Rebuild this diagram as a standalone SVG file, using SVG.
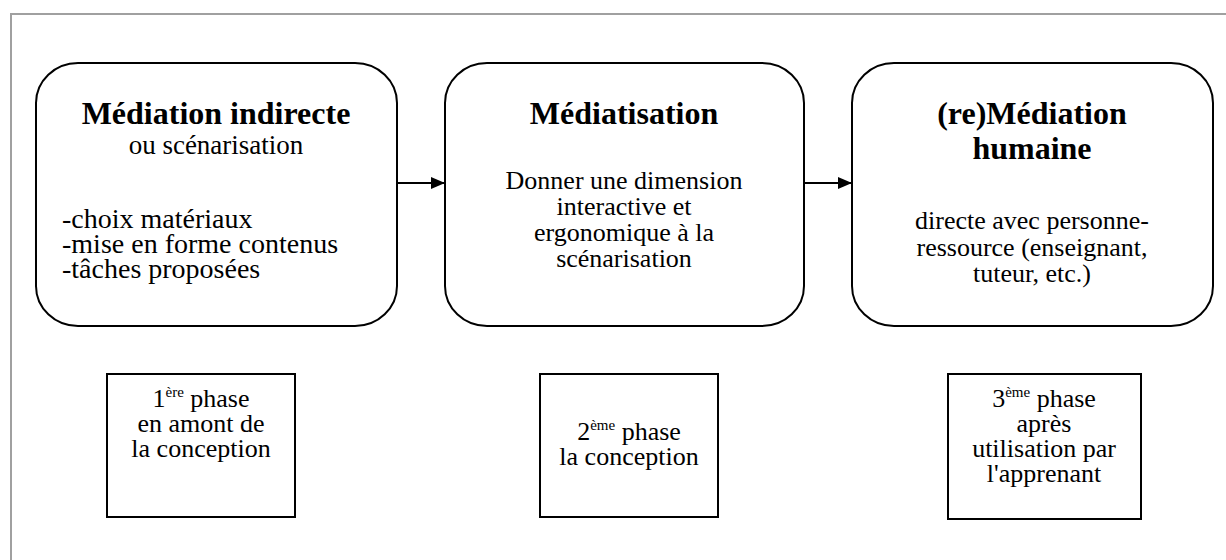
<svg xmlns="http://www.w3.org/2000/svg" width="1226" height="560" viewBox="0 0 1226 560">
<defs>
<marker id="arr" markerWidth="14" markerHeight="12" refX="14" refY="6" orient="auto" markerUnits="userSpaceOnUse">
<path d="M0,0 L14,6 L0,12 Z" fill="#000"/>
</marker>
<style>
.frame{fill:none;stroke:#a0a0a0;stroke-width:2}
.rbox{fill:#fff;stroke:#000;stroke-width:2}
.pbox{fill:#fff;stroke:#000;stroke-width:2}
.conn{stroke:#000;stroke-width:2;fill:none}
</style>
</defs>
<rect width="1226" height="560" fill="#fff"/>
<path class="frame" d="M11,560 V14 H1226"/>
<g id="connectors">
<line class="conn" x1="397" y1="183" x2="445" y2="183" marker-end="url(#arr)"/>
<line class="conn" x1="804" y1="183" x2="852" y2="183" marker-end="url(#arr)"/>
</g>
<g id="node-mediation-indirecte">
<rect class="rbox" x="36" y="63" width="361" height="263" rx="42" ry="40"/>
<text font-family="Liberation Serif" font-size="32" font-weight="bold" text-anchor="middle" x="216" y="124">Médiation indirecte</text>
<text font-family="Liberation Serif" font-size="27" text-anchor="middle" x="216" y="154">ou scénarisation</text>
<text font-family="Liberation Serif" font-size="28" x="62" y="228">-choix matériaux</text>
<text font-family="Liberation Serif" font-size="28" x="62" y="253">-mise en forme contenus</text>
<text font-family="Liberation Serif" font-size="28" x="62" y="278">-tâches proposées</text>
</g>
<g id="node-mediatisation">
<rect class="rbox" x="445" y="63" width="359" height="263" rx="42" ry="40"/>
<text font-family="Liberation Serif" font-size="32" font-weight="bold" text-anchor="middle" x="624" y="124">Médiatisation</text>
<text font-family="Liberation Serif" font-size="26" text-anchor="middle" x="624" y="189">Donner une dimension</text>
<text font-family="Liberation Serif" font-size="26" text-anchor="middle" x="624" y="215">interactive et</text>
<text font-family="Liberation Serif" font-size="26" text-anchor="middle" x="624" y="241">ergonomique à la</text>
<text font-family="Liberation Serif" font-size="26" text-anchor="middle" x="624" y="267">scénarisation</text>
</g>
<g id="node-remediation-humaine">
<rect class="rbox" x="852" y="63" width="361" height="263" rx="42" ry="40"/>
<text font-family="Liberation Serif" font-size="32" font-weight="bold" text-anchor="middle" x="1032" y="124">(re)Médiation</text>
<text font-family="Liberation Serif" font-size="32" font-weight="bold" text-anchor="middle" x="1032" y="159">humaine</text>
<text font-family="Liberation Serif" font-size="26" text-anchor="middle" x="1032" y="229">directe avec personne-</text>
<text font-family="Liberation Serif" font-size="26" text-anchor="middle" x="1032" y="256">ressource (enseignant,</text>
<text font-family="Liberation Serif" font-size="26" text-anchor="middle" x="1032" y="282">tuteur, etc.)</text>
</g>
<g id="node-phase-1">
<rect class="pbox" x="107" y="374" width="188" height="143"/>
<text font-family="Liberation Serif" font-size="26" text-anchor="middle" x="201" y="407">1<tspan font-size="15" dy="-10">ère</tspan><tspan dy="10"> phase</tspan></text>
<text font-family="Liberation Serif" font-size="26" text-anchor="middle" x="201" y="432">en amont de</text>
<text font-family="Liberation Serif" font-size="26" text-anchor="middle" x="201" y="457">la conception</text>
</g>
<g id="node-phase-2">
<rect class="pbox" x="540" y="374" width="178" height="143"/>
<text font-family="Liberation Serif" font-size="26" text-anchor="middle" x="629" y="440">2<tspan font-size="15" dy="-10">ème</tspan><tspan dy="10"> phase</tspan></text>
<text font-family="Liberation Serif" font-size="26" text-anchor="middle" x="629" y="465">la conception</text>
</g>
<g id="node-phase-3">
<rect class="pbox" x="948" y="374" width="193" height="145"/>
<text font-family="Liberation Serif" font-size="26" text-anchor="middle" x="1044" y="407">3<tspan font-size="15" dy="-10">ème</tspan><tspan dy="10"> phase</tspan></text>
<text font-family="Liberation Serif" font-size="26" text-anchor="middle" x="1044" y="432">après</text>
<text font-family="Liberation Serif" font-size="26" text-anchor="middle" x="1044" y="457">utilisation par</text>
<text font-family="Liberation Serif" font-size="26" text-anchor="middle" x="1044" y="482">l'apprenant</text>
</g>
</svg>
